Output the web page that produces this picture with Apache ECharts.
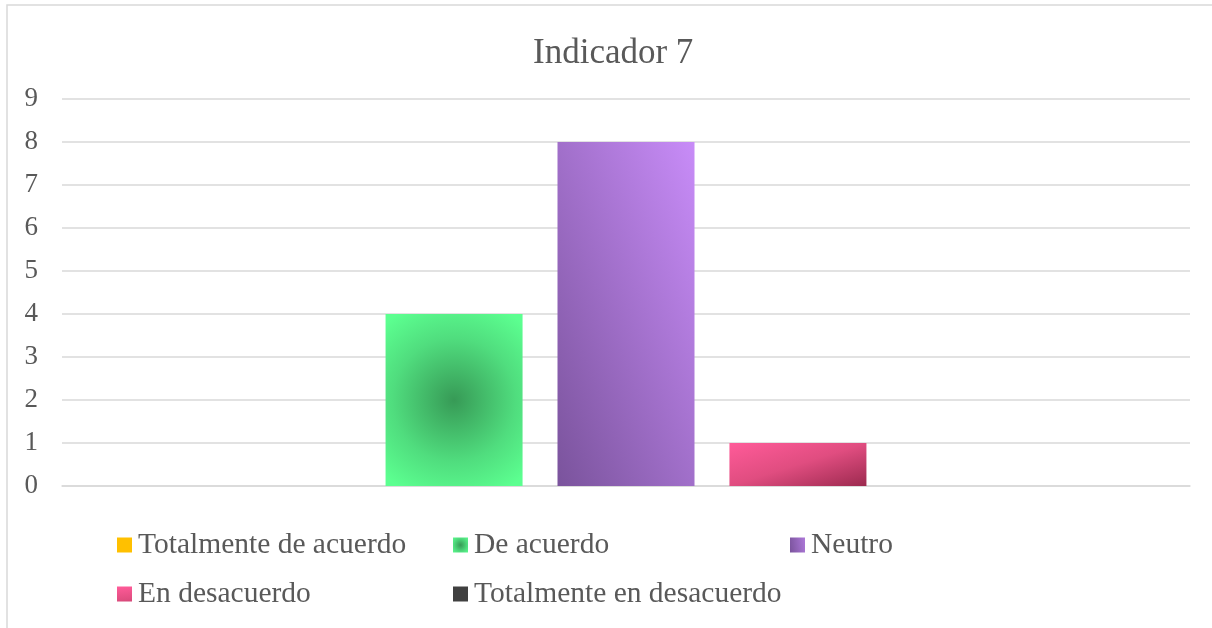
<!DOCTYPE html>
<html><head><meta charset="utf-8">
<script src="https://cdn.jsdelivr.net/npm/echarts@6/dist/echarts.min.js"></script>
<style>html,body{margin:0;padding:0;background:#fff}#c{width:1212px;height:628px}</style>
</head><body><div id="c"></div>
<script>
const categories = [''];
const seriesNames = ['Totalmente de acuerdo','De acuerdo','Neutro','En desacuerdo','Totalmente en desacuerdo'];
const seriesValues = [0, 4, 8, 1, 0];
const yTicks = [0,1,2,3,4,5,6,7,8,9];

const colors = [
  '#FFC000',
  {type:'radial', x:0.5, y:0.5, r:0.75, colorStops:[{offset:0,color:'#379a56'},{offset:0.6,color:'#50dd7e'},{offset:1,color:'#5cff90'}]},
  {type:'linear', x:0, y:1, x2:1.726, y2:0.726, colorStops:[{offset:0,color:'#7a539c'},{offset:1,color:'#c88cf8'}]},
  {type:'linear', x:0, y:0, x2:0.179, y2:1.82, colorStops:[{offset:0,color:'#ff5b99'},{offset:0.5,color:'#e04d80'},{offset:1,color:'#9c2a4f'}]},
  '#404040'
];
const font = '"Liberation Serif","Times New Roman",serif';
const legendPos = [[117,530],[453,530],[790,530],[117,579],[453,579]];

const chart = echarts.init(document.getElementById('c'));
chart.setOption({
  animation:false,
  title:{text:'Indicador 7', left:528, top:31, textStyle:{fontFamily:font, fontSize:35, fontWeight:'normal', color:'#595959'}},
  graphic:[{type:'rect', shape:{x:7,y:5,width:1300,height:700}, style:{fill:'none', stroke:'#d9d9d9', lineWidth:1.5}, silent:true}],
  legend: seriesNames.map((n,i)=>({data:[n], left:legendPos[i][0], top:legendPos[i][1], icon:'rect', itemWidth:15, itemHeight:15, itemGap:6, padding:0,
    textStyle:{fontFamily:font, fontSize:29.5, color:'#595959', padding:[0,0,0,1]}})),
  grid:{left:62, right:22, top:99, bottom:142, containLabel:false},
  xAxis:{type:'category', data:categories, axisLine:{lineStyle:{color:'#d9d9d9', width:1.5}}, axisTick:{show:false}, axisLabel:{show:false}},
  yAxis:{type:'value', min:yTicks[0], max:yTicks[yTicks.length-1], interval:1,
    axisLine:{show:false}, axisTick:{show:false},
    axisLabel:{fontFamily:font, fontSize:27, color:'#595959', margin:24},
    splitLine:{lineStyle:{color:'#d9d9d9', width:1.5}}},
  series: seriesNames.map((n,i)=>({name:n, type:'bar', data:[seriesValues[i]], barWidth:137, barGap:'25.5%', itemStyle:{color:colors[i]}}))
});
</script></body></html>
